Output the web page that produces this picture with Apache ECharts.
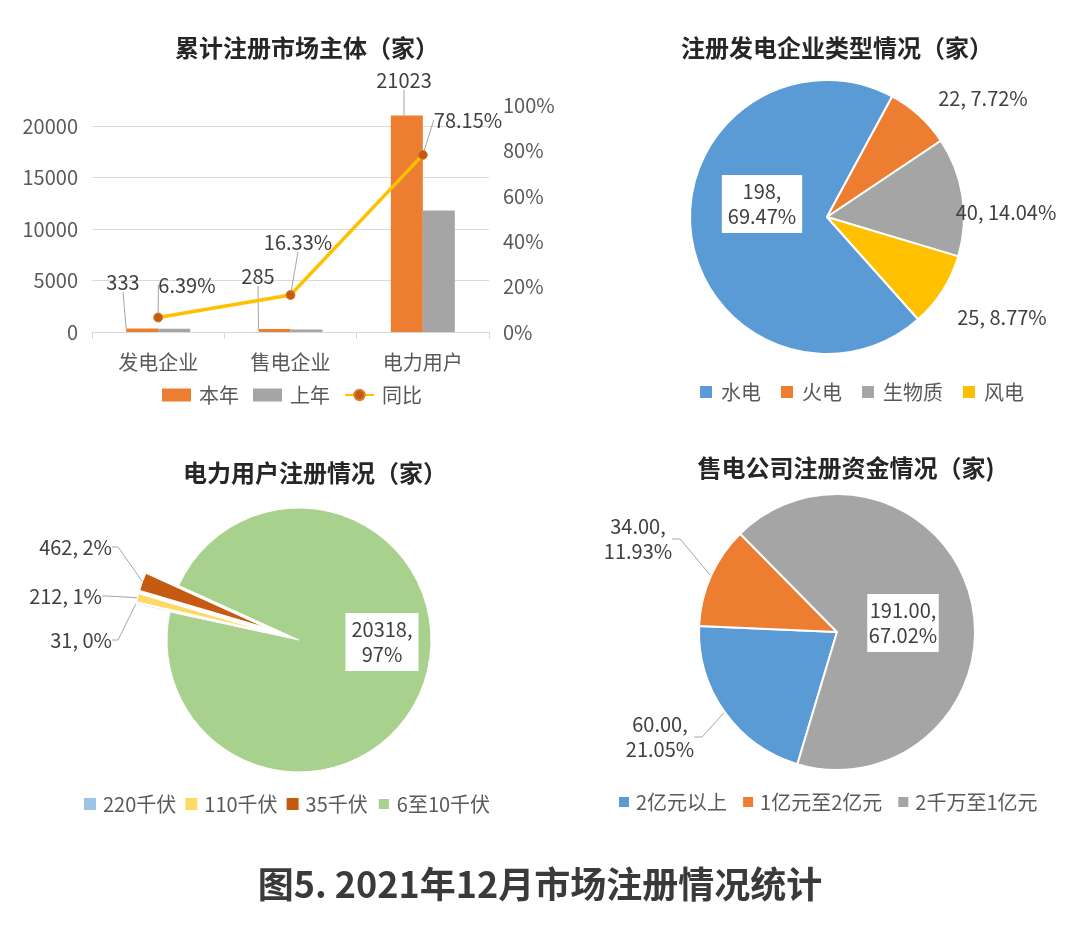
<!DOCTYPE html>
<html>
<head>
<meta charset="utf-8">
<script src="https://cdn.jsdelivr.net/npm/echarts@6/dist/echarts.min.js"></script>
<style>
html,body{margin:0;padding:0;background:#fff;}
#main{width:1080px;height:927px;}
</style>
</head>
<body>
<div id="main"></div>
<script>
// ---------- data ----------
const barCategories = ['发电企业', '售电企业', '电力用户'];
const thisYear = [333, 285, 21023];
const lastYear = [313, 245, 11801];
const yoyPct = [6.39, 16.33, 78.15];
const leftAxisTicks = [0, 5000, 10000, 15000, 20000];
const rightAxisTicks = [0, 20, 40, 60, 80, 100];

const genTypes = ['水电', '火电', '生物质', '风电'];
const genCounts = [198, 22, 40, 25];

const userLevels = ['220千伏', '110千伏', '35千伏', '6至10千伏'];
const userCounts = [31, 212, 462, 20318];

const capitalBands = ['2亿元以上', '1亿元至2亿元', '2千万至1亿元'];
const capitalCounts = [60, 34, 191];

// ---------- styles ----------
const FONT = 'Noto Sans CJK SC';
const TXT = '#404040';
const AXT = '#595959';
const LINE_C = '#a6a6a6';

const genColors = ['#5b9bd5', '#ed7d31', '#a5a5a5', '#ffc000'];
const userColors = ['#9dc3e6', '#ffd966', '#c55a11', '#a9d18e'];
const capColors = ['#5b9bd5', '#ed7d31', '#a5a5a5'];

// label anchor positions
const barLabelPos = [[123, 282], [258, 276], [404, 80]];
const lineLabelPos = [[187, 285], [298, 242], [468, 120]];
const genLabelPos = [[762, 204, 'center'], [983, 98, 'center'], [1006, 212, 'center'], [1002, 317, 'center']];
const userLabelPos = [[112, 640, 'right'], [102, 596, 'right'], [112, 547, 'right'], [382, 642, 'center']];
const capLabelPos = [[660, 737, 'center'], [638, 539, 'center'], [903, 623, 'center']];

// pie geometry
const genPie = { center: [827, 217], r: 137, start: 138.3 };
const userPie = { center: [299, 640], r: 132, start: 282.3, explode: 35 };
const capPie = { center: [837, 632], r: 138, start: 196.7 };

function posLayout(table) {
  return function (p) {
    const t = table[p.dataIndex];
    if (!t) return {};
    return { x: t[0], y: t[1], align: t[2] || 'center', verticalAlign: 'middle' };
  };
}

const chart = echarts.init(document.getElementById('main'), null, { renderer: 'canvas' });

const titleStyle = { fontFamily: FONT, fontSize: 24, fontWeight: 'bold', color: '#262626' };
function mkTitle(text, x, y, size) {
  return {
    text: text, left: x, top: y, padding: 0,
    textAlign: 'center', textVerticalAlign: 'middle',
    textStyle: Object.assign({}, titleStyle, size ? { fontSize: size } : {})
  };
}

const boxLabel = { show: true, backgroundColor: '#fff', padding: [4, 6], lineHeight: 25, overflow: 'none' };
const pieLabelBase = { show: true, fontFamily: FONT, fontSize: 20, color: TXT, lineHeight: 25, overflow: 'none' };

// ----- pie 3 : main (green) + exploded small slices -----
const userTotal = userCounts.reduce(function (a, b) { return a + b; }, 0);
const userSeries = [];
userSeries.push({
  name: '电力用户', type: 'pie', center: userPie.center, radius: userPie.r,
  startAngle: 90 - userPie.start, clockwise: true, percentPrecision: 0, silent: true,
  data: userLevels.map(function (n, i) {
    const visible = i === 3;
    return {
      name: n, value: userCounts[i],
      itemStyle: visible ? { color: userColors[i], borderColor: '#fff', borderWidth: 1 } : { color: 'rgba(0,0,0,0)', borderWidth: 0 },
      label: visible ? Object.assign({}, pieLabelBase, boxLabel) : { show: false },
      labelLine: { show: false }
    };
  }),
  label: Object.assign({}, pieLabelBase, {
    formatter: function (p) { return p.value + ',\n' + p.percent + '%'; }
  }),
  labelLayout: posLayout(userLabelPos),
  emphasis: { disabled: true }
});
(function () {
  let cum = 0;
  for (let k = 0; k < 3; k++) {
    const share = userCounts[k] / userTotal;
    const midDeg = userPie.start + (cum + share / 2) * 360;
    cum += share;
    const rad = midDeg * Math.PI / 180;
    const c = [userPie.center[0] + userPie.explode * Math.sin(rad), userPie.center[1] - userPie.explode * Math.cos(rad)];
    userSeries.push({
      name: '电力用户' + k, type: 'pie', center: c, radius: userPie.r,
      startAngle: 90 - userPie.start, clockwise: true, percentPrecision: 0, silent: true,
      data: userLevels.map(function (n, i) {
        const visible = i === k;
        return {
          name: n, value: userCounts[i],
          itemStyle: visible ? { color: userColors[i], borderColor: '#fff', borderWidth: 1 } : { color: 'rgba(0,0,0,0)', borderWidth: 0 },
          label: { show: visible },
          labelLine: { show: visible }
        };
      }),
      label: Object.assign({}, pieLabelBase, {
        formatter: function (p) { return p.value + ', ' + p.percent + '%'; }
      }),
      labelLine: { show: true, length2: 6, lineStyle: { color: LINE_C, width: 1 } },
      labelLayout: posLayout(userLabelPos),
      emphasis: { disabled: true }
    });
  }
})();

const option = {
  animation: false,
  backgroundColor: '#fff',
  textStyle: { fontFamily: FONT },
  title: [
    mkTitle('累计注册市场主体（家）', 307, 48),
    mkTitle('注册发电企业类型情况（家）', 837, 48),
    mkTitle('电力用户注册情况（家）', 315, 473),
    mkTitle('售电公司注册资金情况（家)', 846, 468),
    {
      text: '图5. 2021年12月市场注册情况统计', left: 540, top: 884, padding: 0,
      textAlign: 'center', textVerticalAlign: 'middle',
      textStyle: { fontFamily: FONT, fontSize: 36, fontWeight: 'bold', color: '#3a3a3a' }
    }
  ],
  legend: [
    {
      left: 157, top: 380, orient: 'horizontal', itemWidth: 29, itemHeight: 13, itemGap: 14,
      selectedMode: false,
      textStyle: { fontFamily: FONT, fontSize: 20, color: AXT, padding: [0, 0, 0, 3] },
      data: [{ name: '本年', icon: 'rect' }, { name: '上年', icon: 'rect' }, { name: '同比' }]
    },
    {
      left: 693, top: 377, itemWidth: 14, itemHeight: 14, itemGap: 18, icon: 'rect',
      selectedMode: false,
      textStyle: { fontFamily: FONT, fontSize: 20, color: AXT, padding: [0, 0, 0, 3] },
      data: genTypes
    },
    {
      left: 79, top: 789, itemWidth: 12, itemHeight: 12, itemGap: 9, icon: 'rect',
      selectedMode: false,
      textStyle: { fontFamily: FONT, fontSize: 20, color: AXT, padding: [0, 0, 0, 2] },
      data: userLevels.map(function (n, i) { return { name: n, itemStyle: { color: userColors[i] } }; })
    },
    {
      left: 612, top: 787, itemWidth: 12, itemHeight: 12, itemGap: 14, icon: 'rect',
      selectedMode: false,
      textStyle: { fontFamily: FONT, fontSize: 20, color: AXT, padding: [0, 0, 0, 1] },
      data: capitalBands
    }
  ],
  grid: [{ left: 92, top: 105.4, width: 397, height: 226.6, containLabel: false }],
  xAxis: [{
    type: 'category', data: barCategories, gridIndex: 0,
    axisLine: { lineStyle: { color: '#d9d9d9', width: 1 } },
    axisTick: { show: true, length: 7, lineStyle: { color: '#d9d9d9' } },
    axisLabel: { fontFamily: FONT, fontSize: 20, color: AXT, margin: 20 }
  }],
  yAxis: [
    {
      type: 'value', min: 0, max: 22000, interval: 5000, gridIndex: 0,
      axisLine: { show: false }, axisTick: { show: false },
      axisLabel: {
        fontFamily: FONT, fontSize: 20, color: AXT, margin: 14, showMaxLabel: false,
        formatter: function (v) { return leftAxisTicks.indexOf(v) >= 0 ? String(v) : ''; }
      },
      splitLine: { show: true, showMaxLine: false, lineStyle: { color: '#d9d9d9', width: 1 } }
    },
    {
      type: 'value', min: 0, max: 100, interval: 20, gridIndex: 0, position: 'right',
      axisLine: { show: false }, axisTick: { show: false },
      axisLabel: {
        fontFamily: FONT, fontSize: 20, color: AXT, margin: 14,
        formatter: function (v) { return rightAxisTicks.indexOf(v) >= 0 ? v + '%' : ''; }
      },
      splitLine: { show: false }
    }
  ],
  series: [
    {
      name: '本年', type: 'bar', xAxisIndex: 0, yAxisIndex: 0, data: thisYear,
      barWidth: 32, barGap: '0%',
      itemStyle: { color: '#ed7d31' },
      label: { show: true, position: 'top', fontFamily: FONT, fontSize: 20, color: TXT },
      labelLine: { show: true, lineStyle: { color: LINE_C, width: 1 } },
      labelLayout: posLayout(barLabelPos),
      emphasis: { disabled: true }
    },
    {
      name: '上年', type: 'bar', xAxisIndex: 0, yAxisIndex: 0, data: lastYear,
      barWidth: 32, barGap: '0%',
      itemStyle: { color: '#a5a5a5' },
      emphasis: { disabled: true }
    },
    {
      name: '同比', type: 'line', xAxisIndex: 0, yAxisIndex: 1, data: yoyPct, z: 5,
      lineStyle: { color: '#ffc000', width: 3.5 },
      symbol: 'circle', symbolSize: 9,
      itemStyle: { color: '#c55a11', borderColor: '#d9822b', borderWidth: 1 },
      label: {
        show: true, position: 'top', fontFamily: FONT, fontSize: 20, color: TXT,
        formatter: function (p) { return p.value + '%'; }
      },
      labelLine: { show: true, lineStyle: { color: LINE_C, width: 1 } },
      labelLayout: posLayout(lineLabelPos),
      emphasis: { disabled: true }
    },
    {
      name: '发电企业类型', type: 'pie', center: genPie.center, radius: genPie.r,
      startAngle: 90 - genPie.start, clockwise: true,
      data: genTypes.map(function (n, i) {
        return {
          name: n, value: genCounts[i], itemStyle: { color: genColors[i] },
          label: i === 0 ? Object.assign({}, boxLabel) : {}
        };
      }),
      itemStyle: { borderColor: '#fff', borderWidth: 2 },
      label: Object.assign({}, pieLabelBase, {
        formatter: function (p) {
          return p.dataIndex === 0 ? p.value + ',\n' + p.percent.toFixed(2) + '%' : p.value + ', ' + p.percent.toFixed(2) + '%';
        }
      }),
      labelLine: { show: false },
      labelLayout: posLayout(genLabelPos),
      emphasis: { disabled: true }
    }
  ].concat(userSeries).concat([
    {
      name: '售电公司', type: 'pie', center: capPie.center, radius: capPie.r,
      startAngle: 90 - capPie.start, clockwise: true,
      data: capitalBands.map(function (n, i) {
        return {
          name: n, value: capitalCounts[i], itemStyle: { color: capColors[i] },
          label: i === 2 ? Object.assign({}, boxLabel) : {},
          labelLine: i === 2 ? { show: false } : {}
        };
      }),
      itemStyle: { borderColor: '#fff', borderWidth: 2 },
      label: Object.assign({}, pieLabelBase, {
        formatter: function (p) { return p.value.toFixed(2) + ',\n' + p.percent.toFixed(2) + '%'; }
      }),
      labelLine: { show: true, length2: 8, lineStyle: { color: LINE_C, width: 1 } },
      labelLayout: posLayout(capLabelPos),
      emphasis: { disabled: true }
    }
  ])
};

chart.setOption(option);
</script>
</body>
</html>
